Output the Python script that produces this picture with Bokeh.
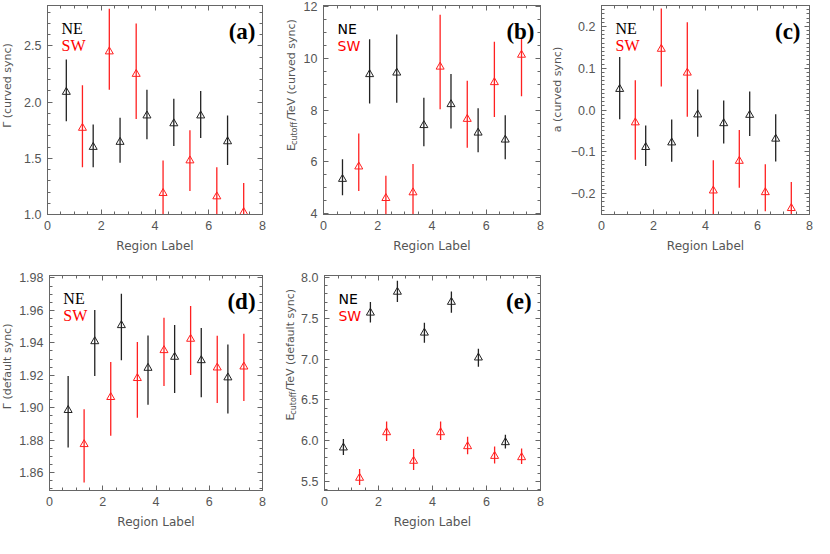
import numpy as np
from bokeh.plotting import figure
from bokeh.models import (ColumnDataSource, Range1d, SingleIntervalTicker, LinearAxis,
                          Label, CustomJSTickFormatter)
from bokeh.core.properties import value
from bokeh.layouts import row, column
from bokeh.embed import file_html
from bokeh.resources import INLINE

# ---------------- data ----------------
ne_x = [0.7, 1.7, 2.7, 3.7, 4.7, 5.7, 6.7]
sw_x = [1.3, 2.3, 3.3, 4.3, 5.3, 6.3, 7.3]

# (a) Gamma (curved sync)
a_ne = [2.09, 1.60, 1.645, 1.88, 1.81, 1.88, 1.65]
a_ne_hi = [2.38, 1.80, 1.86, 2.11, 2.03, 2.10, 1.88]
a_ne_lo = [1.83, 1.42, 1.46, 1.67, 1.61, 1.68, 1.44]
a_sw = [1.77, 2.45, 2.25, 1.19, 1.48, 1.16, 1.02]
a_sw_hi = [2.15, 2.83, 2.70, 1.48, 1.75, 1.42, 1.28]
a_sw_lo = [1.42, 2.11, 1.85, 0.90, 1.21, 0.88, 0.75]

# (b) E_cutoff/TeV (curved sync)
b_ne = [5.34, 9.39, 9.45, 7.42, 8.23, 7.13, 6.86]
b_ne_hi = [6.11, 10.75, 10.93, 8.48, 9.40, 8.08, 7.81]
b_ne_lo = [4.71, 8.26, 8.29, 6.61, 7.29, 6.38, 6.11]
b_sw = [5.82, 4.60, 4.82, 9.68, 7.66, 9.08, 10.14]
b_sw_hi = [7.10, 5.47, 5.92, 11.69, 9.14, 10.65, 10.77]
b_sw_lo = [4.88, 3.70, 3.90, 8.04, 6.55, 7.74, 8.54]

# (c) a (curved sync)
c_ne = [0.050, -0.089, -0.078, -0.011, -0.032, -0.012, -0.069]
c_ne_hi = [0.127, -0.037, -0.023, 0.049, 0.023, 0.044, -0.010]
c_ne_lo = [-0.022, -0.134, -0.124, -0.064, -0.080, -0.062, -0.123]
c_sw = [-0.030, 0.146, 0.089, -0.193, -0.122, -0.197, -0.235]
c_sw_hi = [0.071, 0.243, 0.210, -0.120, -0.048, -0.130, -0.172]
c_sw_lo = [-0.119, 0.056, -0.016, -0.250, -0.186, -0.242, -0.290]

# (d) Gamma (default sync)
d_ne = [1.8985, 1.9409, 1.9508, 1.9245, 1.9313, 1.9292, 1.9186]
d_ne_hi = [1.9196, 1.9602, 1.9703, 1.9446, 1.9510, 1.9491, 1.9389]
d_ne_lo = [1.8755, 1.9196, 1.9292, 1.9019, 1.9091, 1.9065, 1.8964]
d_sw = [1.8775, 1.9065, 1.9182, 1.9354, 1.9424, 1.9247, 1.9253]
d_sw_hi = [1.8991, 1.9282, 1.9405, 1.9555, 1.9627, 1.9444, 1.9456]
d_sw_lo = [1.8540, 1.8827, 1.8939, 1.9134, 1.9202, 1.9030, 1.9042]

# (e) E_cutoff/TeV (default sync)
e_ne = [5.915, 7.568, 7.824, 7.323, 7.700, 7.018, 5.980]
e_ne_hi = [6.020, 7.700, 7.960, 7.445, 7.830, 7.128, 6.073]
e_ne_lo = [5.825, 7.450, 7.700, 7.200, 7.570, 6.908, 5.906]
e_sw = [5.544, 6.102, 5.752, 6.102, 5.931, 5.812, 5.796]
e_sw_hi = [5.654, 6.236, 5.898, 6.236, 6.049, 5.930, 5.906]
e_sw_lo = [5.458, 5.996, 5.641, 6.008, 5.833, 5.722, 5.715]

x_axis_title = "Region Label"
series_names = ["NE", "SW"]

# ---------------- styling ----------------
AX = "#666666"
TXT = "#555555"
NE_COL = "#222222"
SW_COL = "#ff2020"

# column geometry: strip (y-title) + panel
COLS = [dict(strip_left=8, strip_w=16, left=24, width=268, L=31, R=22),
        dict(strip_left=292, strip_w=14, left=306, width=250, L=25, R=8),
        dict(strip_left=556, strip_w=16, left=572, width=250, L=37, R=5)]
ROWS = [dict(top=8, height=260, T=5, B=46),
        dict(top=268, height=278, T=15, B=48)]


def fixed_fmt(n):
    return CustomJSTickFormatter(code="""
        if (Math.abs(tick) < 1e-9) { return (0).toFixed(%d); }
        return (tick < 0 ? '\\u2212' : '') + Math.abs(tick).toFixed(%d);
    """ % (n, n))


def style_axis(ax):
    ax.axis_line_color = AX
    ax.major_tick_line_color = AX
    ax.minor_tick_line_color = AX
    ax.major_tick_in = 5
    ax.major_tick_out = 0
    ax.minor_tick_in = 3
    ax.minor_tick_out = 0


def make_panel(letter, col, rw, yr, yint, yminor, ydec, ne, ne_lo, ne_hi, sw, sw_lo, sw_hi,
               legend_font, legend_size, letter_dx):
    c = COLS[col]
    r = ROWS[rw]
    p = figure(width=c['width'], height=r['height'],
               x_range=Range1d(0, 8), y_range=Range1d(*yr),
               output_backend="svg", toolbar_location=None,
               min_border_left=c['L'], min_border_right=c['R'],
               min_border_top=r['T'], min_border_bottom=r['B'])
    p.grid.visible = False
    p.outline_line_color = AX
    p.background_fill_color = "white"
    p.border_fill_color = "white"

    xt = SingleIntervalTicker(interval=2, num_minor_ticks=4)
    yt = SingleIntervalTicker(interval=yint, num_minor_ticks=yminor)
    p.xaxis.ticker = xt
    p.yaxis.ticker = yt
    p.xaxis.formatter = fixed_fmt(0)
    p.yaxis.formatter = fixed_fmt(ydec)
    for ax in (p.xaxis[0], p.yaxis[0]):
        style_axis(ax)
        ax.major_label_text_color = TXT
        ax.major_label_text_font = "Liberation Sans"
        ax.major_label_text_font_size = "12.5px"
        ax.major_label_standoff = 6
    p.xaxis.axis_label = x_axis_title
    p.xaxis.axis_label_text_font = "DejaVu Sans"
    p.xaxis.axis_label_text_font_size = "12px"
    p.xaxis.axis_label_text_font_style = "normal"
    p.xaxis.axis_label_text_color = TXT
    p.xaxis.axis_label_standoff = 6

    blank = CustomJSTickFormatter(code="return ''")
    for loc, tk in (("above", xt), ("right", yt)):
        ax = LinearAxis(ticker=tk, formatter=blank)
        style_axis(ax)
        ax.major_label_text_font_size = "0px"
        ax.major_label_standoff = 0
        p.add_layout(ax, loc)

    for xs, ys, lo, hi, colr in ((ne_x, ne, ne_lo, ne_hi, NE_COL), (sw_x, sw, sw_lo, sw_hi, SW_COL)):
        src = ColumnDataSource(dict(x=xs, y=ys, lo=lo, hi=hi))
        p.segment(x0="x", y0="lo", x1="x", y1="hi", source=src, line_color=colr, line_width=1.3)
        p.scatter(x="x", y="y", source=src, marker="triangle", size=8,
                  fill_color=None, line_color=colr, line_width=1)

    fl = c['left'] + c['L']
    fw = c['width'] - c['L'] - c['R']
    ft = r['top'] + r['T']
    fh = r['height'] - r['T'] - r['B']

    def lab(px, py, text, **kw):
        x = (px - fl) / fw * 8
        y = yr[1] - (py - ft) / fh * (yr[1] - yr[0])
        p.add_layout(Label(x=x, y=y, text=text, **kw))

    lab(fl + 14, ft + 23, series_names[0], text_color="black", text_font=legend_font,
        text_font_size=legend_size, text_align="left", text_baseline="alphabetic")
    lab(fl + 14, ft + 40, series_names[1], text_color="red", text_font=legend_font,
        text_font_size=legend_size, text_align="left", text_baseline="alphabetic")
    lab(fl + fw - letter_dx, ft + 26, "(%s)" % letter, text_color="black",
        text_font="Liberation Serif", text_font_style="bold", text_font_size="23px",
        text_align="right", text_baseline="alphabetic")
    return p, fl, ft, fh


def make_strip(col, rw, page_x, page_yc, parts):
    """A narrow figure holding the rotated y-axis title."""
    c = COLS[col]
    r = ROWS[rw]
    w, h = c['strip_w'], r['height']
    s = figure(width=w, height=h, x_range=Range1d(0, w), y_range=Range1d(0, h),
               output_backend="svg", toolbar_location=None,
               x_axis_type=None, y_axis_type=None,
               min_border_left=0, min_border_right=0, min_border_top=0, min_border_bottom=0)
    s.grid.visible = False
    s.outline_line_color = None
    s.background_fill_color = "white"
    s.border_fill_color = "white"
    xc = page_x - c['strip_left']
    ycp = page_yc - r['top']          # from top of strip

    def txt(x, ytop, text, size, align):
        s.text(x=[x], y=[h - ytop], text=[text], angle=np.pi / 2,
               text_align=align, text_baseline="middle",
               text_font=value("DejaVu Sans"), text_font_size=value(size), text_color=TXT)

    if len(parts) == 1:
        txt(xc, ycp, parts[0], "11px", "center")
    else:
        main, sub, rest, rest_em = parts
        wE = 0.632 * 11 + 0.5
        wc = 2.892 * 8 + 7
        wr = rest_em * 11
        bottom = ycp + (wE + wc + wr) / 2
        txt(xc, bottom, main, "11px", "left")
        txt(xc + 2.5, bottom - wE, sub, "8px", "left")
        txt(xc, bottom - wE - wc, rest, "11px", "left")
    return s


pa, fla, fta, fha = make_panel("a", 0, 0, (1.0, 2.86), 0.5, 5, 1,
                               a_ne, a_ne_lo, a_ne_hi, a_sw, a_sw_lo, a_sw_hi,
                               "Liberation Serif", "16px", 7)
pb, flb, ftb, fhb = make_panel("b", 1, 0, (3.97, 12.05), 2, 4, 0,
                               b_ne, b_ne_lo, b_ne_hi, b_sw, b_sw_lo, b_sw_hi,
                               "DejaVu Sans", "14px", 6)
pc, flc, ftc, fhc = make_panel("c", 2, 0, (-0.25, 0.25), 0.1, 10, 1,
                               c_ne, c_ne_lo, c_ne_hi, c_sw, c_sw_lo, c_sw_hi,
                               "Liberation Serif", "16px", 9)
pd, fld, ftd, fhd = make_panel("d", 0, 1, (1.849, 1.9815), 0.02, 4, 2,
                               d_ne, d_ne_lo, d_ne_hi, d_sw, d_sw_lo, d_sw_hi,
                               "Liberation Serif", "16px", 7)
pe, fle, fte, fhe = make_panel("e", 1, 1, (5.39, 8.025), 0.5, 5, 1,
                               e_ne, e_ne_lo, e_ne_hi, e_sw, e_sw_lo, e_sw_hi,
                               "DejaVu Sans", "14px", 9)

sa = make_strip(0, 0, 15, fta + fha / 2 - 10, ["\u0393 (curved sync)"])
sb = make_strip(1, 0, 299, ftb + fhb / 2 + 1, ["E", "cutoff", "/TeV (curved sync)", 9.397])
sc = make_strip(2, 0, 565, ftc + fhc / 2 - 5, ["a (curved sync)"])
sd = make_strip(0, 1, 15, ftd + fhd / 2 - 5, ["\u0393 (default sync)"])
se = make_strip(1, 1, 298, fte + fhe / 2 - 6, ["E", "cutoff", "/TeV (default sync)", 9.479])

layout = column(row(sa, pa, sb, pb, sc, pc), row(sd, pd, se, pe))
open("out.html", "w").write(file_html(layout, INLINE))
